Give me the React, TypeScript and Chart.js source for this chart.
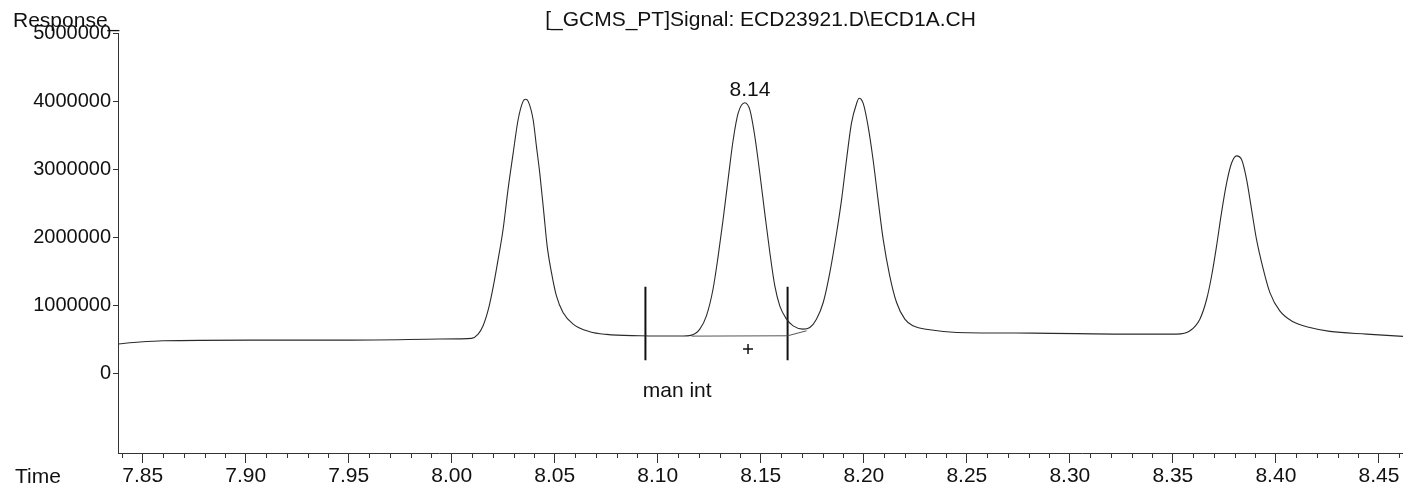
import React, { useEffect, useRef } from 'react';
import { Chart, registerables } from 'chart.js';

Chart.register(...registerables);

// ---- data ----
const titleText = '[_GCMS_PT]Signal: ECD23921.D\\ECD1A.CH';
const yAxisTitle = 'Response_';
const xAxisTitle = 'Time';

const times = [
  7.838, 7.8485, 7.8599, 7.902, 7.9505, 7.9942, 8.004, 8.0096, 8.0128, 8.0152,
  8.018, 8.0202, 8.0225, 8.0249, 8.0273, 8.0298, 8.0322, 8.0346, 8.0358, 8.0371,
  8.0395, 8.0411, 8.0427, 8.0447, 8.0463, 8.0484, 8.0508, 8.054, 8.0589, 8.067,
  8.0751, 8.0913, 8.101, 8.1107, 8.1164, 8.1204, 8.1236, 8.1268, 8.1293, 8.1317,
  8.1341, 8.1366, 8.139, 8.1422, 8.1447, 8.1471, 8.1495, 8.1519, 8.1544, 8.1568,
  8.1592, 8.1625, 8.1657, 8.1705, 8.1738, 8.177, 8.1803, 8.1835, 8.1868, 8.1892,
  8.1916, 8.194, 8.1965, 8.1977, 8.1997, 8.2021, 8.2045, 8.2069, 8.2094, 8.2126,
  8.2159, 8.2199, 8.2239, 8.232, 8.245, 8.2822, 8.3291, 8.3518, 8.3583, 8.3631,
  8.3664, 8.3688, 8.3712, 8.3736, 8.3761, 8.3785, 8.3809, 8.3834, 8.3858, 8.3882,
  8.3906, 8.3939, 8.3971, 8.4019, 8.4084, 8.4165, 8.4262, 8.444, 8.4617,
];

const responses = [
  440000, 468000, 487000, 497000, 497000, 512000, 515000, 522000, 585000, 706000,
  976000, 1291000, 1681000, 2120000, 2705000, 3240000, 3730000, 4000000, 4030000, 4000000,
  3730000, 3340000, 2950000, 2360000, 1876000, 1487000, 1145000, 902000, 731000, 619000,
  580000, 560000, 556000, 556000, 570000, 658000, 852000, 1243000, 1730000, 2266000,
  2850000, 3436000, 3826000, 3980000, 3874000, 3484000, 2948000, 2364000, 1779000, 1291000,
  999000, 804000, 706000, 658000, 682000, 804000, 1048000, 1487000, 2072000, 2558000,
  3143000, 3680000, 3970000, 4045000, 3970000, 3630000, 3143000, 2558000, 1974000, 1437000,
  1048000, 804000, 706000, 648000, 609000, 599000, 585000, 585000, 633000, 804000,
  1096000, 1437000, 1876000, 2364000, 2803000, 3095000, 3200000, 3143000, 2851000, 2412000,
  1974000, 1535000, 1194000, 925000, 765000, 682000, 625000, 585000, 551000,
];

// manual integration markers
const manIntTimes = [8.094, 8.163];
const manIntTop = 1280000;
const manIntBottom = 200000;
const intBaselineTimes = [8.1164, 8.163, 8.1722];
const intBaselineResponses = [555000, 560000, 633000];
const peakMarkTimes = [8.1438];
const peakMarkResponses = [365000];

const peakLabelText = '8.14';
const peakLabelTime = 8.1447;
const peakLabelResponse = 4167000;
const manIntText = 'man int';
const manIntTextTime = 8.0927;
const manIntTextResponse = -250000;

// axes
const xMin = 7.838;
const xMax = 8.4617;
const yMin = -1160000;
const yMax = 5000000;
const xTickValues = [7.85, 7.9, 7.95, 8.0, 8.05, 8.1, 8.15, 8.2, 8.25, 8.3, 8.35, 8.4, 8.45];
const yTickValues = [0, 1000000, 2000000, 3000000, 4000000, 5000000];

const FONT = '"Liberation Sans", Arial, Helvetica, sans-serif';
const TEXT = '#111111';
const AXIS = '#333333';
const TRACE = '#2a2a2a';

Chart.defaults.font.family = FONT;

export default function App() {
  const ref = useRef<HTMLCanvasElement>(null);

  useEffect(() => {
    const canvas = ref.current;
    if (!canvas) return;

    const xMinorTicks: number[] = [];
    for (let i = Math.ceil(xMin * 100); i <= Math.floor(xMax * 100); i++) {
      if (i % 5 !== 0) xMinorTicks.push(i / 100);
    }

    const decor = {
      id: 'decor',
      afterDraw(chart: any) {
        const { ctx, chartArea, scales } = chart;
        const x = scales.x;
        const y = scales.y;
        ctx.save();
        ctx.strokeStyle = AXIS;
        ctx.lineWidth = 1;
        ctx.beginPath();
        for (const t of xMinorTicks) {
          const px = Math.round(x.getPixelForValue(t)) + 0.5;
          ctx.moveTo(px, chartArea.bottom);
          ctx.lineTo(px, chartArea.bottom + 5);
        }
        ctx.stroke();

        ctx.fillStyle = TEXT;
        ctx.font = `21px ${FONT}`;
        ctx.textAlign = 'left';
        ctx.textBaseline = 'alphabetic';
        ctx.fillText(yAxisTitle, chartArea.left - 105, chartArea.top - 6);
        ctx.fillText(xAxisTitle, chartArea.left - 103, chartArea.bottom + 30);

        ctx.textAlign = 'center';
        ctx.textBaseline = 'middle';
        ctx.fillText(peakLabelText, x.getPixelForValue(peakLabelTime), y.getPixelForValue(peakLabelResponse));

        ctx.textAlign = 'left';
        ctx.fillText(manIntText, x.getPixelForValue(manIntTextTime), y.getPixelForValue(manIntTextResponse));
        ctx.restore();
      },
    };

    const trace = times.map((t, i) => ({ x: t, y: responses[i] }));
    const baseline = intBaselineTimes.map((t, i) => ({ x: t, y: intBaselineResponses[i] }));
    const marks = peakMarkTimes.map((t, i) => ({ x: t, y: peakMarkResponses[i] }));

    const datasets: any[] = [
      {
        data: trace,
        borderColor: TRACE,
        borderWidth: 1.1,
        pointRadius: 0,
        pointHoverRadius: 0,
        cubicInterpolationMode: 'monotone',
        fill: false,
      },
      {
        data: baseline,
        borderColor: '#555555',
        borderWidth: 1,
        pointRadius: 0,
        pointHoverRadius: 0,
        tension: 0,
        fill: false,
      },
      ...manIntTimes.map((t) => ({
        data: [
          { x: t, y: manIntTop },
          { x: t, y: manIntBottom },
        ],
        borderColor: '#111111',
        borderWidth: 2,
        pointRadius: 0,
        pointHoverRadius: 0,
        tension: 0,
        fill: false,
      })),
      {
        data: marks,
        showLine: false,
        pointStyle: 'cross',
        pointRadius: 5,
        pointHoverRadius: 5,
        pointBorderWidth: 1.5,
        pointBorderColor: '#111111',
        borderColor: '#111111',
      },
    ];

    const chart = new Chart(canvas, {
      type: 'line',
      data: { datasets },
      options: {
        animation: false,
        responsive: false,
        devicePixelRatio: 1,
        events: [],
        layout: { padding: 0, autoPadding: false },
        plugins: {
          legend: { display: false },
          tooltip: { enabled: false },
          title: {
            display: true,
            text: titleText,
            fullSize: false,
            align: 'center',
            color: TEXT,
            font: { size: 21, weight: 'normal', family: FONT },
            padding: { top: 8, bottom: 0 },
          },
        },
        scales: {
          x: {
            type: 'linear',
            min: xMin,
            max: xMax,
            afterBuildTicks: (s: any) => {
              s.ticks = xTickValues.map((v) => ({ value: v }));
            },
            afterFit: (s: any) => {
              s.height = 36;
              s.paddingLeft = 0;
              s.paddingRight = 0;
            },
            grid: { drawOnChartArea: false, drawTicks: true, tickLength: 10, color: AXIS },
            border: { display: true, color: AXIS, width: 1 },
            ticks: {
              autoSkip: false,
              maxRotation: 0,
              padding: 1,
              color: TEXT,
              font: { size: 21, family: FONT },
              callback: (v: any) => Number(v).toFixed(2),
            },
          },
          y: {
            type: 'linear',
            min: yMin,
            max: yMax,
            afterBuildTicks: (s: any) => {
              s.ticks = yTickValues.map((v) => ({ value: v }));
            },
            afterFit: (s: any) => {
              s.width = 118;
              s.paddingTop = 0;
              s.paddingBottom = 0;
            },
            grid: { drawOnChartArea: false, drawTicks: true, tickLength: 5, color: AXIS },
            border: { display: true, color: AXIS, width: 1 },
            ticks: {
              padding: 2,
              color: TEXT,
              font: { size: 20, family: FONT },
              callback: (v: any) => String(v),
            },
          },
        },
      } as any,
      plugins: [decor],
    });

    return () => chart.destroy();
  }, []);

  return (
    <div style={{ position: 'fixed', left: 0, top: 0, width: 1403, height: 489, background: '#ffffff' }}>
      <canvas ref={ref} width={1403} height={489} style={{ display: 'block' }} />
    </div>
  );
}
